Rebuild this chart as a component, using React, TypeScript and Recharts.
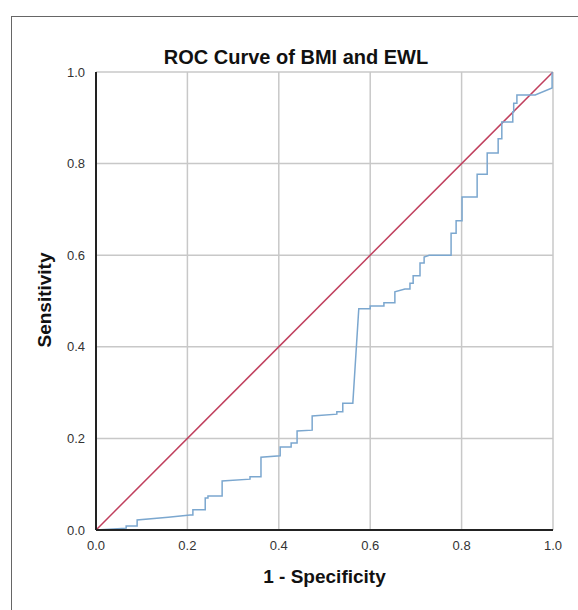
import React from "react";
import {
  LineChart,
  Line,
  XAxis,
  YAxis,
  CartesianGrid,
} from "recharts";

// ROC curve vertices (1 - specificity, sensitivity)
const rocFpr = [
  0, 0.066, 0.066, 0.09, 0.09, 0.158, 0.206, 0.212, 0.212, 0.239, 0.239, 0.245,
  0.245, 0.276, 0.276, 0.337, 0.337, 0.361, 0.361, 0.403, 0.403, 0.427, 0.427,
  0.44, 0.44, 0.473, 0.473, 0.527, 0.527, 0.54, 0.54, 0.562, 0.575, 0.6, 0.6,
  0.63, 0.63, 0.654, 0.654, 0.676, 0.687, 0.687, 0.694, 0.694, 0.709, 0.709,
  0.718, 0.718, 0.729, 0.777, 0.777, 0.788, 0.788, 0.801, 0.801, 0.834, 0.834,
  0.856, 0.856, 0.88, 0.88, 0.888, 0.888, 0.912, 0.912, 0.914, 0.914, 0.921,
  0.921, 0.961, 0.998, 0.998,
];
const rocTpr = [
  0, 0.004, 0.009, 0.009, 0.022, 0.028, 0.033, 0.033, 0.044, 0.044, 0.07, 0.07,
  0.074, 0.074, 0.107, 0.111, 0.116, 0.116, 0.159, 0.162, 0.181, 0.181, 0.19,
  0.19, 0.216, 0.218, 0.249, 0.253, 0.258, 0.258, 0.277, 0.277, 0.483, 0.483,
  0.489, 0.489, 0.496, 0.496, 0.52, 0.526, 0.526, 0.539, 0.539, 0.555, 0.555,
  0.583, 0.583, 0.596, 0.6, 0.6, 0.648, 0.648, 0.675, 0.675, 0.727, 0.727,
  0.777, 0.777, 0.823, 0.823, 0.854, 0.854, 0.891, 0.891, 0.913, 0.913, 0.932,
  0.932, 0.95, 0.95, 0.965, 1.0,
];

const refX = [0, 1];
const refY = [0, 1];

const TICKS = [0, 0.2, 0.4, 0.6, 0.8, 1.0];

const rocData = rocFpr.map((x, i) => ({ x, y: rocTpr[i] }));
const refData = refX.map((x, i) => ({ x, y: refY[i] }));

const FONT = "Arial, 'Liberation Sans', sans-serif";

export default function App() {
  return (
    <div
      style={{
        position: "absolute",
        left: 0,
        top: 0,
        width: 578,
        height: 610,
        overflow: "hidden",
        background: "#fff",
        fontFamily: FONT,
      }}
    >
      <div
        style={{
          position: "absolute",
          left: 11,
          top: 16,
          width: 600,
          height: 620,
          border: "1px solid #666",
        }}
      />
      <div
        style={{
          position: "absolute",
          left: 0,
          top: 46,
          width: 592,
          textAlign: "center",
          fontSize: 20,
          fontWeight: "bold",
          color: "#111",
        }}
      >
        ROC Curve of BMI and EWL
      </div>
      <div
        style={{
          position: "absolute",
          left: 45,
          top: 300,
          transform: "translate(-50%, -50%) rotate(-90deg)",
          fontSize: 19,
          fontWeight: "bold",
          color: "#111",
          whiteSpace: "nowrap",
        }}
      >
        Sensitivity
      </div>
      <div
        style={{
          position: "absolute",
          left: 0,
          top: 566,
          width: 649,
          textAlign: "center",
          fontSize: 19,
          fontWeight: "bold",
          color: "#111",
        }}
      >
        1 - Specificity
      </div>
      <div style={{ position: "absolute", left: 0, top: 0 }}>
        <LineChart
          width={578}
          height={610}
          margin={{ top: 72, right: 25, bottom: 50, left: 56 }}
        >
          <CartesianGrid stroke="#c8c8c8" strokeWidth={1.5} />
          <XAxis
            type="number"
            dataKey="x"
            domain={[0, 1]}
            ticks={TICKS}
            tickFormatter={(v: number) => v.toFixed(1)}
            tick={{ fontSize: 13, fill: "#333", fontFamily: FONT }}
            axisLine={{ stroke: "#222", strokeWidth: 2 }}
            tickLine={false}
            tickMargin={5}
            height={30}
            allowDataOverflow
          />
          <YAxis
            type="number"
            dataKey="y"
            domain={[0, 1]}
            ticks={TICKS}
            tickFormatter={(v: number) => v.toFixed(1)}
            tick={{ fontSize: 13, fill: "#333", fontFamily: FONT }}
            axisLine={{ stroke: "#222", strokeWidth: 2 }}
            tickLine={false}
            tickMargin={5}
            width={40}
            allowDataOverflow
          />
          <Line
            data={refData}
            dataKey="y"
            type="linear"
            stroke="#c0405e"
            strokeWidth={1.5}
            dot={false}
            isAnimationActive={false}
          />
          <Line
            data={rocData}
            dataKey="y"
            type="linear"
            stroke="#7ba7cf"
            strokeWidth={1.5}
            dot={false}
            isAnimationActive={false}
          />
        </LineChart>
      </div>
    </div>
  );
}
